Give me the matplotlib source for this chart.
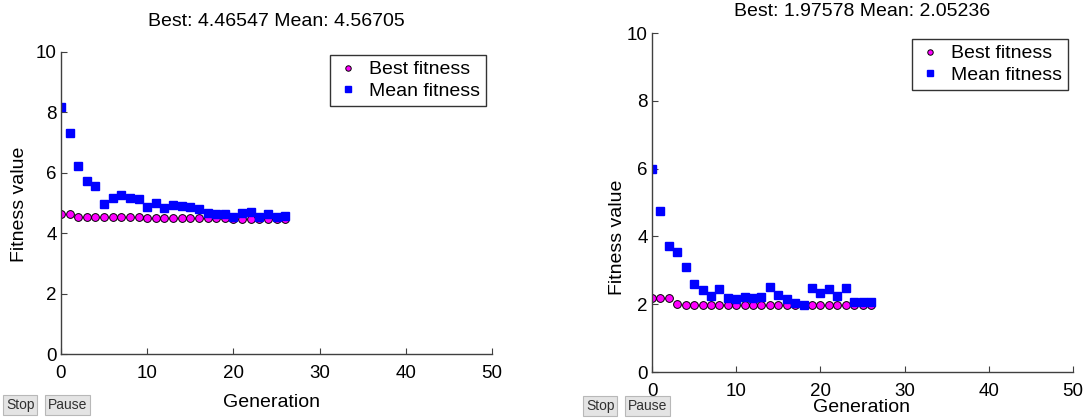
import numpy as np
import matplotlib.pyplot as plt

plt.rcParams['font.family'] = ['Liberation Sans', 'DejaVu Sans']

generations = list(range(27))

best_left = [4.63, 4.63, 4.52, 4.52, 4.52, 4.52, 4.52, 4.52, 4.52, 4.52,
             4.51, 4.50, 4.50, 4.50, 4.50, 4.50, 4.50, 4.49, 4.49, 4.49,
             4.47, 4.47, 4.47, 4.47, 4.47, 4.47, 4.46547]
mean_left = [8.19, 7.31, 6.23, 5.73, 5.55, 4.98, 5.16, 5.26, 5.16, 5.13,
             4.87, 4.99, 4.83, 4.93, 4.89, 4.87, 4.79, 4.66, 4.63, 4.62,
             4.52, 4.66, 4.70, 4.55, 4.64, 4.55, 4.56705]

best_right = [2.17, 2.17, 2.17, 2.01, 1.99, 1.99, 1.99, 1.99, 1.99, 1.99,
              1.99, 1.99, 1.99, 1.99, 1.99, 1.99, 1.99, 1.98, 1.98, 1.98,
              1.98, 1.98, 1.98, 1.98, 1.98, 1.98, 1.97578]
mean_right = [6.00, 4.75, 3.72, 3.55, 3.11, 2.60, 2.43, 2.23, 2.46, 2.19,
              2.16, 2.22, 2.19, 2.22, 2.51, 2.26, 2.15, 2.05, 1.99, 2.48,
              2.34, 2.46, 2.23, 2.48, 2.07, 2.07, 2.05236]

W, H = 1090, 419
FS = 14
fig = plt.figure(figsize=(W / 100, H / 100), dpi=100)


def fx(px):
    return px / W


def fy(py):
    return 1 - py / H


def make_axes(left, right, top, bottom):
    return fig.add_axes([fx(left), fy(bottom), (right - left) / W, (bottom - top) / H])


def draw_panel(ax, best, mean, title, title_xy, xlab_xy, ylab_xy, leg_xy):
    ax.plot(generations, best, 'o', color='#ff00ff', markeredgecolor='black',
            markeredgewidth=0.7, markersize=5.6, label='Best fitness', linestyle='none')
    ax.plot(generations, mean, 's', color='#0000ff', markeredgecolor='#0000ff',
            markersize=5.4, label='Mean fitness', linestyle='none')
    ax.set_xlim(0, 50)
    ax.set_ylim(0, 10)
    ax.set_xticks([0, 10, 20, 30, 40, 50])
    ax.set_yticks([0, 2, 4, 6, 8, 10])
    for s in ['top', 'right']:
        ax.spines[s].set_visible(False)
    for s in ['left', 'bottom']:
        ax.spines[s].set_color('#404040')
        ax.spines[s].set_linewidth(1.0)
    ax.tick_params(direction='in', length=4, width=0.8, color='#404040',
                   labelsize=13.5, pad=3)
    ax.tick_params(axis='x', pad=8)
    fig.text(fx(title_xy[0]), fy(title_xy[1]), title, fontsize=FS, ha='center', va='center')
    fig.text(fx(xlab_xy[0]), fy(xlab_xy[1]), 'Generation', fontsize=FS, ha='center', va='center')
    fig.text(fx(ylab_xy[0]), fy(ylab_xy[1]), 'Fitness value', fontsize=FS, ha='center',
             va='center', rotation=90)
    leg = ax.legend(loc='upper right', bbox_to_anchor=(fx(leg_xy[0]), fy(leg_xy[1])),
                    bbox_transform=fig.transFigure, fontsize=FS, frameon=True,
                    fancybox=False, markerscale=0.7, handletextpad=0.5, borderpad=0.3,
                    labelspacing=0.2, handlelength=1.2, borderaxespad=0)
    leg.get_frame().set_edgecolor('black')
    leg.get_frame().set_linewidth(1.0)
    ax.patch.set_alpha(0)


ax1 = make_axes(61, 492, 52, 354)
draw_panel(ax1, best_left, mean_left, 'Best: 4.46547 Mean: 4.56705',
           (276, 22), (271, 402), (20, 204), (486, 55))

ax2 = make_axes(652, 1073, 33, 372)
draw_panel(ax2, best_right, mean_right, 'Best: 1.97578 Mean: 2.05236',
           (862, 12), (861, 407), (618, 237), (1068, 39))

# Stop / Pause buttons
for x0, y0 in [(6, 405), (586, 406)]:
    fig.text(fx(x0), fy(y0), 'Stop', fontsize=10, va='center', ha='left', color='#303030',
             bbox=dict(boxstyle='square,pad=0.2', fc='#e4e4e4', ec='#b8b8b8', lw=0.8))
    fig.text(fx(x0 + 42), fy(y0), 'Pause', fontsize=10, va='center', ha='left', color='#303030',
             bbox=dict(boxstyle='square,pad=0.2', fc='#e4e4e4', ec='#b8b8b8', lw=0.8))

plt.savefig('out.png', dpi=100)
